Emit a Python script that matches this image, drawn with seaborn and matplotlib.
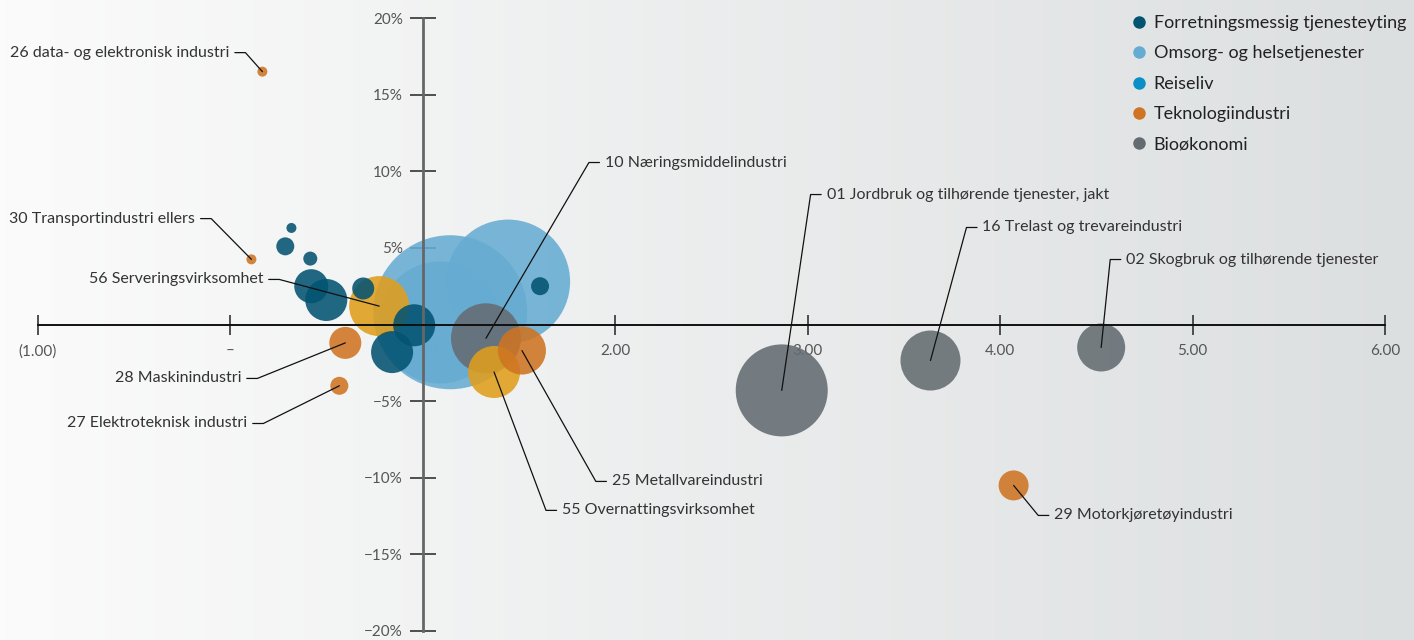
import numpy as np
import pandas as pd
import matplotlib
matplotlib.use("Agg")
import matplotlib.pyplot as plt
from matplotlib.lines import Line2D
import seaborn as sns

# --- data ---
navn = [
    "", "", "", "", "", "", "", "",
    "", "", "", "",
    "56 Serveringsvirksomhet", "55 Overnattingsvirksomhet",
    "26 data- og elektronisk industri", "30 Transportindustri ellers",
    "28 Maskinindustri", "27 Elektroteknisk industri",
    "25 Metallvareindustri", "29 Motorkjøretøyindustri",
    "10 Næringsmiddelindustri", "01 Jordbruk og tilhørende tjenester, jakt",
    "16 Trelast og trevareindustri", "02 Skogbruk og tilhørende tjenester",
]
gruppe = [
    "Forretningsmessig tjenesteyting", "Forretningsmessig tjenesteyting",
    "Forretningsmessig tjenesteyting", "Forretningsmessig tjenesteyting",
    "Forretningsmessig tjenesteyting", "Forretningsmessig tjenesteyting",
    "Forretningsmessig tjenesteyting", "Forretningsmessig tjenesteyting",
    "Omsorg- og helsetjenester", "Omsorg- og helsetjenester",
    "Omsorg- og helsetjenester", "Forretningsmessig tjenesteyting",
    "Servering/overnatting", "Servering/overnatting",
    "Teknologiindustri", "Teknologiindustri",
    "Teknologiindustri", "Teknologiindustri",
    "Teknologiindustri", "Teknologiindustri",
    "Bioøkonomi", "Bioøkonomi",
    "Bioøkonomi", "Bioøkonomi",
]
x_verdi = [0.317, 0.285, 0.415, 0.42, 0.498, 0.69, 0.84, 0.955,
           1.142, 1.09, 1.443, 1.609,
           0.773, 1.37,
           0.166, 0.109, 0.597, 0.566, 1.515, 4.07,
           1.328, 2.865, 3.638, 4.525]
y_vekst = [6.3, 5.1, 4.3, 2.5, 1.6, 2.35, -1.8, -0.05,
           0.8, 0.13, 2.8, 2.5,
           1.2, -3.1,
           16.5, 4.25, -1.2, -4.0, -1.7, -10.5,
           -0.9, -4.3, -2.35, -1.5]
storrelse = [25, 81, 49, 289, 441, 121, 441, 441,
             5929, 3721, 3844, 81,
             900, 676,
             25, 25, 256, 81, 576, 225,
             1225, 2116, 900, 576]

legend_grupper = ["Forretningsmessig tjenesteyting", "Omsorg- og helsetjenester",
                  "Reiseliv", "Teknologiindustri", "Bioøkonomi"]
farger = {
    "Forretningsmessig tjenesteyting": "#035371",
    "Omsorg- og helsetjenester": "#66acd2",
    "Reiseliv": "#0b8fc4",
    "Teknologiindustri": "#cf7422",
    "Bioøkonomi": "#646c71",
    "Servering/overnatting": "#e09e1c",
}

x_ticks = [-1, 0, 1, 2, 3, 4, 5, 6]
x_ticklabels = ["(1.00)", "–", "1.00", "2.00", "3.00", "4.00", "5.00", "6.00"]
y_ticks = [20, 15, 10, 5, 0, -5, -10, -15, -20]
y_ticklabels = ["20%", "15%", "10%", "5%", "0%", "−5%", "−10%", "−15%", "−20%"]

# label elbow positions (layout) and side of the text
etikett_knekk = {
    "26 data- og elektronisk industri": (0.078, 17.74, "left"),
    "30 Transportindustri ellers": (-0.10, 6.91, "left"),
    "56 Serveringsvirksomhet": (0.254, 2.94, "left"),
    "28 Maskinindustri": (0.140, -3.52, "left"),
    "27 Elektroteknisk industri": (0.171, -6.46, "left"),
    "10 Næringsmiddelindustri": (1.863, 10.57, "right"),
    "01 Jordbruk og tilhørende tjenester, jakt": (3.015, 8.48, "right"),
    "16 Trelast og trevareindustri": (3.825, 6.33, "right"),
    "02 Skogbruk og tilhørende tjenester": (4.572, 4.24, "right"),
    "25 Metallvareindustri": (1.899, -10.24, "right"),
    "55 Overnattingsvirksomhet": (1.640, -12.13, "right"),
    "29 Motorkjøretøyindustri": (4.198, -12.46, "right"),
}

df = pd.DataFrame({"navn": navn, "gruppe": gruppe, "x": x_verdi,
                   "y": y_vekst, "storrelse": storrelse})
df = df.sort_values("storrelse", ascending=False)

sns.set_style("white")
plt.rcParams["font.family"] = ["Lato", "DejaVu Sans"]

W, H = 1414, 640
fig = plt.figure(figsize=(W / 100, H / 100), dpi=100)

# background gradient
bg = fig.add_axes([0, 0, 1, 1], zorder=-10)
grad = np.linspace(0, 1, 256)
c0 = np.array([251, 251, 251]) / 255
c1 = np.array([220, 223, 224]) / 255
img = c0[None, :] + (c1 - c0)[None, :] * grad[:, None]
bg.imshow(img[None, :, :], aspect="auto", extent=[0, 1, 0, 1])
bg.set_axis_off()

ax = fig.add_axes([38 / W, (H - 631) / H, (1385 - 38) / W, (631 - 18) / H])
ax.set_facecolor("none")

vmax = 6000
px2pt = 0.72
sns.scatterplot(data=df, x="x", y="y", hue="gruppe", palette=farger,
                size="storrelse", sizes=(0, (2 * px2pt) ** 2 * vmax),
                size_norm=(0, vmax), alpha=0.88, linewidth=0,
                legend=False, ax=ax, zorder=3)

ax.set_xlim(-1, 6)
ax.set_ylim(-20, 20)
ax.set_xlabel("")
ax.set_ylabel("")

for s in ["top", "right"]:
    ax.spines[s].set_visible(False)
ax.spines["left"].set_position(("data", 1))
ax.spines["bottom"].set_position(("data", 0))
ax.spines["left"].set_color("#666666")
ax.spines["left"].set_linewidth(2)
ax.spines["bottom"].set_color("#111111")
ax.spines["bottom"].set_linewidth(1.4)
for s in ["left", "bottom"]:
    ax.spines[s].set_zorder(4)
    ax.spines[s].set_clip_on(False)
ax.set_axisbelow(False)

ax.set_xticks(x_ticks)
ax.set_xticklabels(x_ticklabels)
ax.set_yticks(y_ticks)
ax.set_yticklabels(y_ticklabels)
ax.tick_params(axis="x", bottom=True, direction="inout", length=14, width=1.2,
               color="#333333", pad=7, labelsize=11, labelcolor="#555555")
ax.tick_params(axis="y", left=True, direction="inout", length=19, width=1.2,
               color="#333333", pad=5, labelsize=11, labelcolor="#555555")

# annotations
seg = 0.055
gap = 0.028
for _, rad in df.iterrows():
    if rad["navn"] not in etikett_knekk:
        continue
    ex, ey, side = etikett_knekk[rad["navn"]]
    sx = ex - seg if side == "left" else ex + seg
    ax.plot([rad["x"], ex, sx], [rad["y"], ey, ey], color="#111111",
            lw=0.9, zorder=5, clip_on=False)
    tx = sx - gap if side == "left" else sx + gap
    ax.text(tx, ey, rad["navn"], ha="right" if side == "left" else "left",
            va="center", fontsize=11.5, color="#333333", zorder=6)

handles = [Line2D([0], [0], marker="o", linestyle="", markersize=9,
                  markerfacecolor=farger[g], markeredgewidth=0, label=g)
           for g in legend_grupper]
fig.legend(handles=handles, loc="upper left", bbox_to_anchor=(1121 / W, 1 - 6 / H),
           frameon=False, fontsize=13, handletextpad=0.3, labelspacing=0.8,
           borderpad=0, handlelength=1.0, labelcolor="#222222")

fig.savefig("out.png", dpi=100)
